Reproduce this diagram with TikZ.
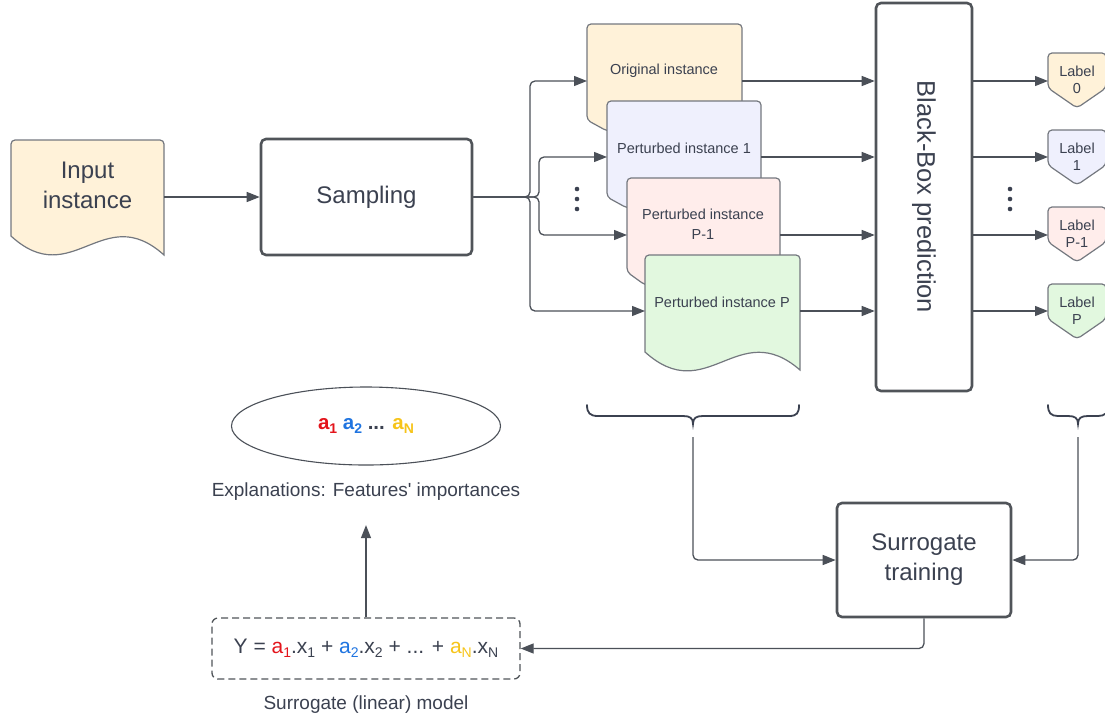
\documentclass[tikz,border=0pt]{standalone}
\usepackage{fontspec}
\setmainfont{Liberation Sans}[Ligatures=TeXOff]
\usetikzlibrary{arrows.meta,shapes.geometric}
\definecolor{lineC}{HTML}{4B5058}
\definecolor{txtC}{HTML}{3B4150}
\definecolor{boxC}{HTML}{505459}
\definecolor{cardC}{HTML}{74787F}
\definecolor{fOrig}{HTML}{FFF2D9}
\definecolor{fPone}{HTML}{EFF0FD}
\definecolor{fPm}{HTML}{FFEDEB}
\definecolor{fP}{HTML}{E2F8DF}
\definecolor{cRed}{HTML}{E3141B}
\definecolor{cBlue}{HTML}{1F74E0}
\definecolor{cYel}{HTML}{F6C41A}
\newcommand\sbs[1]{\raisebox{-0.35ex}{\fontsize{14}{14}\selectfont #1}}
\begin{document}
\begin{tikzpicture}[x=1pt,y=-1pt,
  conn/.style={draw=lineC, line width=1.3pt, -{Triangle[length=13pt,width=10pt]}, rounded corners=5pt},
  bigbox/.style={draw=boxC, line width=2.6pt, rounded corners=5pt, fill=white, text=txtC,
    font=\fontsize{24}{30}\selectfont, align=center, inner sep=0pt},
  card/.style={draw=cardC, line width=1.2pt, rounded corners=4pt},
  cardtxt/.style={text=txtC, font=\fontsize{14.5}{20}\selectfont, align=center, inner sep=0pt},
  labtxt/.style={text=txtC, font=\fontsize{14.5}{17}\selectfont, align=center, inner sep=0pt},
  hold/.style={inner sep=0pt, outer sep=0pt},
  brace/.style={draw=txtC, line width=1.8pt, line cap=round},
  captxt/.style={text=txtC, font=\fontsize{19}{22}\selectfont, inner sep=0pt, anchor=base},
  dot/.style={fill=txtC, draw=none}
]
\useasboundingbox (0,0) rectangle (1105,716);
\clip (0,0) rectangle (1105,716);

% row coordinates
\coordinate (r0) at (0,81);
\coordinate (r1) at (0,157);
\coordinate (r2) at (0,235);
\coordinate (r3) at (0,311);

% Input instance (document)
\path[card, fill=fOrig] (11,236) -- (11,140) -- (164,140) -- (164,180) [sharp corners] -- (164,255)
   .. controls (103,200) and (72,292) .. (11,236) -- cycle;
\node[hold, minimum width=153pt, minimum height=96pt] (inp) at (87.5,188) {};
\node[bigbox, draw=none, fill=none] (inpT) at (87.5,185) {Input\\instance};

% Sampling
\node[bigbox, minimum width=211pt, minimum height=116pt] (samp) at (366.5,197) {Sampling};

% Cards
\path[card, fill=fOrig] (587,120) -- (587,24) -- (742,24) -- (742,131) -- (607,131) -- cycle;
\node[hold, minimum width=155pt, minimum height=107pt] (orig) at (664.5,77.5) {};
\node[cardtxt] (origT) at (664,71) {Original instance};

\path[card, fill=fPone] (607,197) -- (607,101) -- (761,101) -- (761,208) -- (627,208) -- cycle;
\node[hold, minimum width=154pt, minimum height=107pt] (p1) at (684,154.5) {};
\node[cardtxt] (p1T) at (684,148) {Perturbed instance 1};

\path[card, fill=fPm] (627,272) -- (627,178) -- (780,178) -- (780,285) -- (645,285) -- cycle;
\node[hold, minimum width=153pt, minimum height=107pt] (pm) at (703.5,231.5) {};
\node[cardtxt] (pmT) at (703,224) {Perturbed instance\\P-1};

\path[card, fill=fP] (645,352) -- (645,255) -- (800,255) -- (800,300) [sharp corners] -- (800,370)
   .. controls (738,316) and (707,408) .. (645,352) -- cycle;
\node[hold, minimum width=155pt, minimum height=97pt] (pp) at (722.5,303.5) {};
\node[cardtxt] (ppT) at (722,302) {Perturbed instance P};

% dots
\fill[dot] (577,189) circle (2.3pt) (577,199) circle (2.3pt) (577,209) circle (2.3pt);
\fill[dot] (1010,189) circle (2.3pt) (1010,199) circle (2.3pt) (1010,209) circle (2.3pt);

% Black box
\node[bigbox, minimum width=96pt, minimum height=388pt] (bb) at (924,197) {};
\node[bigbox, draw=none, fill=none, rotate=-90, font=\fontsize{25.5}{30}\selectfont] (bbT) at (bb.center) {Black-Box prediction};

% Labels
\path[card, fill=fOrig] (1048,88) -- (1048,53) -- (1106,53) -- (1106,88) -- (1077,108) -- cycle;
\node[hold, minimum width=58pt, minimum height=55pt] (l0) at (1077,80.5) {};
\node[labtxt] at (1077,80) {Label\\0};
\path[card, fill=fPone] (1048,165) -- (1048,130) -- (1106,130) -- (1106,165) -- (1077,185) -- cycle;
\node[hold, minimum width=58pt, minimum height=55pt] (l1) at (1077,157.5) {};
\node[labtxt] at (1077,157) {Label\\1};
\path[card, fill=fPm] (1048,242) -- (1048,207) -- (1106,207) -- (1106,242) -- (1077,262) -- cycle;
\node[hold, minimum width=58pt, minimum height=55pt] (l2) at (1077,234.5) {};
\node[labtxt] at (1077,234) {Label\\P-1};
\path[card, fill=fP] (1048,319) -- (1048,284) -- (1106,284) -- (1106,319) -- (1077,339) -- cycle;
\node[hold, minimum width=58pt, minimum height=55pt] (l3) at (1077,311.5) {};
\node[labtxt] at (1077,311) {Label\\P};

% connectors: input -> sampling -> cards
\draw[conn] (inp.east |- samp.west) -- (samp.west);
\draw[conn] (samp.east) -- (530,197) -- (530,81) -- (orig.west |- r0);
\draw[conn] (samp.east) -- (530,197) -- (530,311) -- (pp.west |- r3);
\draw[conn] (samp.east) -- (539,197) -- (539,157) -- (p1.west |- r1);
\draw[conn] (samp.east) -- (539,197) -- (539,235) -- (pm.west |- r2);

% cards -> black box
\draw[conn] (orig.east |- r0) -- (bb.west |- r0);
\draw[conn] (p1.east |- r1) -- (bb.west |- r1);
\draw[conn] (pm.east |- r2) -- (bb.west |- r2);
\draw[conn] (pp.east |- r3) -- (bb.west |- r3);

% black box -> labels
\draw[conn] (bb.east |- r0) -- (l0.west |- r0);
\draw[conn] (bb.east |- r1) -- (l1.west |- r1);
\draw[conn] (bb.east |- r2) -- (l2.west |- r2);
\draw[conn] (bb.east |- r3) -- (l3.west |- r3);

% braces
\draw[brace] (587,405) .. controls (587,413) and (590,416) .. (598,416) -- (683,416)
   .. controls (690,416) and (693,418) .. (693,424)
   .. controls (693,418) and (696,416) .. (703,416) -- (789,416)
   .. controls (797,416) and (799,413) .. (799,405);
\draw[brace] (1048,405) .. controls (1048,413) and (1051,416) .. (1058,416) -- (1068,416)
   .. controls (1075,416) and (1078,418) .. (1078,424)
   .. controls (1078,418) and (1081,416) .. (1088,416) -- (1098,416)
   .. controls (1105,416) and (1108,413) .. (1108,405);
\coordinate (b1) at (693,437);
\coordinate (b2) at (1078,437);

% Surrogate training
\node[bigbox, minimum width=174pt, minimum height=114pt] (sur) at (924,560) {Surrogate\\training};
\draw[conn] (b1) |- (sur.west);
\draw[conn] (b2) |- (sur.east);

% Equation
\node[draw=boxC, line width=1.3pt, dash pattern=on 7pt off 4pt, rounded corners=6pt,
      minimum width=308pt, minimum height=61pt, text=txtC, font=\fontsize{21}{24}\selectfont, inner sep=0pt]
  (eq) at (366,648.5)
  {Y = \textcolor{cRed}{a\sbs{1}}.x\sbs{1} + \textcolor{cBlue}{a\sbs{2}}.x\sbs{2} + ... + \textcolor{cYel}{a\sbs{N}}.x\sbs{N}};
\node[captxt] (eqcap) at (366,709) {Surrogate (linear) model};
\draw[conn] (sur.south) |- (eq.east);

% Explanations
\node[draw=lineC, line width=1.1pt, ellipse, minimum width=269pt, minimum height=78pt, inner sep=0pt,
      font=\bfseries\fontsize{20.5}{22}\selectfont, text=txtC] (ell) at (366,426)
  {\textcolor{cRed}{a\sbs{1}} \textcolor{cBlue}{a\sbs{2}} ... \textcolor{cYel}{a\sbs{N}}};
\node[captxt] (expl) at (366,496) {Explanations: Features' importances};
\draw[conn, shorten >=25pt] (eq.north) -- (expl.south);
\end{tikzpicture}
\end{document}
